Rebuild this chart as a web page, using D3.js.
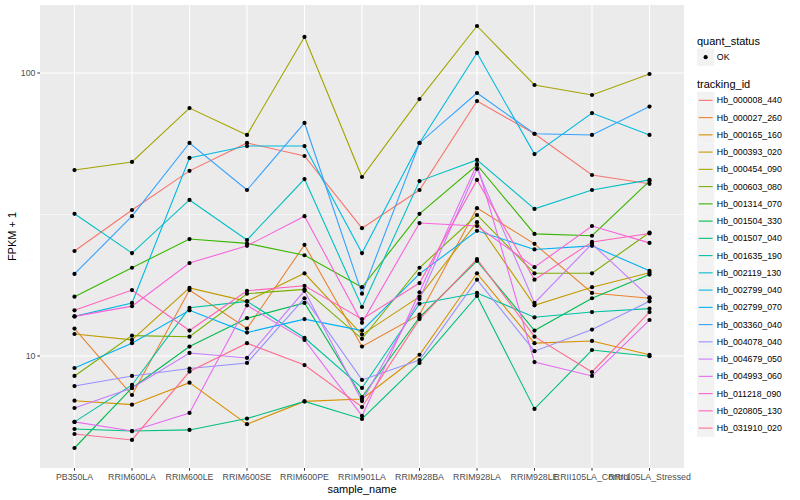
<!DOCTYPE html>
<html><head><meta charset="utf-8">
<script src="https://cdn.jsdelivr.net/npm/d3@7"></script>
<style>body{margin:0;background:#fff}svg text{font-family:"Liberation Sans",Arial,Helvetica,sans-serif}</style>
</head><body><svg id="c" width="800" height="500"></svg>
<script>
const samples = ["PB350LA","RRIM600LA","RRIM600LE","RRIM600SE","RRIM600PE","RRIM901LA","RRIM928BA","RRIM928LA","RRIM928LE","RRII105LA_Control","RRII105LA_Stressed"];
const trackingIds = ["Hb_000008_440","Hb_000027_260","Hb_000165_160","Hb_000393_020","Hb_000454_090","Hb_000603_080","Hb_001314_070","Hb_001504_330","Hb_001507_040","Hb_001635_190","Hb_002119_130","Hb_002799_040","Hb_002799_070","Hb_003360_040","Hb_004078_040","Hb_004679_050","Hb_004993_060","Hb_011218_090","Hb_020805_130","Hb_031910_020"];
const hb_000008_440 = [23.5, 32.8, 45.1, 56.6, 50.9, 28.3, 38.6, 79.6, 61.0, 43.6, 40.6];
const hb_000027_260 = [12.5, 7.28, 17.1, 12.5, 24.7, 10.8, 14.0, 33.3, 24.9, 16.7, 16.0];
const hb_000165_160 = [6.95, 6.73, 8.05, 5.74, 6.91, 7.05, 10.1, 19.6, 11.1, 11.3, 10.1];
const hb_000393_020 = [11.96, 11.4, 17.4, 15.6, 19.6, 11.9, 16.2, 29.7, 15.1, 17.5, 19.7];
const hb_000454_090 = [45.4, 48.5, 75.2, 60.4, 134.1, 42.9, 80.9, 146.6, 90.7, 83.6, 99.2];
const hb_000603_080 = [8.50, 11.8, 11.7, 16.6, 17.2, 11.5, 20.5, 31.5, 19.6, 19.6, 27.3];
const hb_001314_070 = [16.2, 20.5, 25.9, 25.0, 22.7, 17.5, 31.8, 47.3, 27.0, 26.6, 41.5];
const hb_001504_330 = [4.73, 7.71, 10.8, 13.6, 15.4, 7.16, 13.7, 21.7, 12.3, 16.0, 19.4];
const hb_001507_040 = [5.52, 5.43, 5.48, 6.01, 6.91, 5.99, 9.45, 16.3, 6.50, 10.5, 9.98];
const hb_001635_190 = [5.85, 7.90, 14.8, 15.6, 11.6, 7.71, 15.3, 16.7, 13.7, 14.3, 14.7];
const hb_002119_130 = [31.8, 23.1, 35.6, 25.7, 42.2, 14.9, 41.5, 49.3, 33.1, 38.6, 41.9];
const hb_002799_040 = [13.8, 15.4, 50.1, 55.2, 55.2, 23.1, 56.6, 117.7, 51.7, 72.2, 60.4];
const hb_002799_070 = [9.07, 11.1, 14.5, 12.1, 13.5, 12.3, 19.5, 27.7, 23.8, 24.5, 20.0];
const hb_003360_040 = [19.5, 31.2, 56.6, 38.6, 66.6, 16.6, 56.6, 85.0, 61.0, 60.4, 76.1];
const hb_004078_040 = [7.83, 8.50, 9.03, 9.45, 16.0, 8.23, 9.68, 18.6, 10.4, 12.4, 15.6];
const hb_004679_050 = [6.55, 7.71, 10.25, 9.84, 17.0, 6.93, 15.9, 45.8, 15.4, 24.9, 16.1];
const hb_004993_060 = [5.85, 5.43, 6.29, 15.1, 11.4, 6.14, 16.8, 47.7, 9.52, 8.50, 13.4];
const hb_011218_090 = [13.8, 15.0, 21.3, 24.5, 31.2, 13.1, 29.5, 28.8, 20.6, 28.8, 25.1];
const hb_020805_130 = [14.5, 17.1, 12.3, 17.0, 17.7, 13.5, 18.1, 41.9, 18.6, 25.3, 27.1];
const hb_031910_020 = [5.30, 5.05, 8.81, 11.1, 9.29, 6.60, 13.5, 22.0, 11.7, 8.78, 14.3];
const yTicks = [10, 100];
const yTickLabels = ["10", "100"];
const quantStatus = ["OK"];

const seriesValues = [hb_000008_440,hb_000027_260,hb_000165_160,hb_000393_020,hb_000454_090,hb_000603_080,hb_001314_070,hb_001504_330,hb_001507_040,hb_001635_190,hb_002119_130,hb_002799_040,hb_002799_070,hb_003360_040,hb_004078_040,hb_004679_050,hb_004993_060,hb_011218_090,hb_020805_130,hb_031910_020];
const palette = ["#F8766D","#EA8331","#D89000","#C09B00","#A3A500","#7CAE00","#39B600","#00BB4E","#00BF7D","#00C1A3","#00BFC4","#00BAE0","#00B0F6","#35A2FF","#9590FF","#C77CFF","#E76BF3","#FA62DB","#FF62BC","#FF6C91"];

const series = trackingIds.map((id, i) => ({id, color: palette[i], values: seriesValues[i].map((v, j) => ({s: samples[j], v}))}));

const svg = d3.select("#c");
const L = 40, R = 684, T = 5, B = 468;
const x = d3.scalePoint().domain(samples).range([L, R]).padding(0.6);
const y = d3.scaleLog().domain([Math.pow(10, 0.6042), Math.pow(10, 2.2403)]).range([B, T]);

svg.append("rect").attr("x", L).attr("y", T).attr("width", R - L).attr("height", B - T).attr("fill", "#EBEBEB");
// minor grid
svg.append("line").attr("x1", L).attr("x2", R).attr("y1", y(Math.pow(10, 1.5))).attr("y2", y(Math.pow(10, 1.5))).attr("stroke", "#fff").attr("stroke-width", 0.55);
// major grid
yTicks.forEach(t => svg.append("line").attr("x1", L).attr("x2", R).attr("y1", y(t)).attr("y2", y(t)).attr("stroke", "#fff").attr("stroke-width", 1.1));
samples.forEach(s => svg.append("line").attr("x1", x(s)).attr("x2", x(s)).attr("y1", T).attr("y2", B).attr("stroke", "#fff").attr("stroke-width", 1.1));

const line = d3.line().x(d => x(d.s)).y(d => y(d.v));
svg.append("g").selectAll("path").data(series).join("path")
  .attr("d", d => line(d.values)).attr("fill", "none").attr("stroke", d => d.color).attr("stroke-width", 1.1);
svg.append("g").selectAll("circle").data(series.flatMap(d => d.values)).join("circle")
  .attr("cx", d => x(d.s)).attr("cy", d => y(d.v)).attr("r", 2.1).attr("fill", "#000");

// axes
yTicks.forEach((t, i) => {
  svg.append("line").attr("x1", L - 2.7).attr("x2", L).attr("y1", y(t)).attr("y2", y(t)).attr("stroke", "#333").attr("stroke-width", 1);
  svg.append("text").attr("x", L - 4.5).attr("y", y(t)).attr("dy", "0.35em").attr("text-anchor", "end").attr("font-size", 8.8).attr("fill", "#4D4D4D").text(yTickLabels[i]);
});
samples.forEach(s => {
  svg.append("line").attr("x1", x(s)).attr("x2", x(s)).attr("y1", B).attr("y2", B + 2.7).attr("stroke", "#333").attr("stroke-width", 1);
  svg.append("text").attr("x", x(s)).attr("y", B + 12).attr("text-anchor", "middle").attr("font-size", 8.8).attr("fill", "#4D4D4D").text(s);
});
svg.append("text").attr("x", (L + R) / 2).attr("y", 493).attr("text-anchor", "middle").attr("font-size", 11).attr("fill", "#000").text("sample_name");
svg.append("text").attr("transform", `translate(16,${(T + B) / 2}) rotate(-90)`).attr("text-anchor", "middle").attr("font-size", 11).attr("fill", "#000").text("FPKM + 1");

// legend
const lx = 697, kw = 17.3;
svg.append("text").attr("x", lx).attr("y", 44.5).attr("font-size", 11).attr("fill", "#000").text("quant_status");
quantStatus.forEach((q, i) => {
  const ky = 48.5 + i * kw;
  svg.append("rect").attr("x", lx).attr("y", ky).attr("width", kw).attr("height", kw).attr("fill", "#F2F2F2");
  svg.append("circle").attr("cx", lx + kw / 2).attr("cy", ky + kw / 2).attr("r", 2.1).attr("fill", "#000");
  svg.append("text").attr("x", lx + kw + 2.5).attr("y", ky + kw / 2).attr("dy", "0.35em").attr("font-size", 8.8).attr("fill", "#000").text(q);
});
svg.append("text").attr("x", lx).attr("y", 88).attr("font-size", 11).attr("fill", "#000").text("tracking_id");
series.forEach((s, i) => {
  const ky = 91.7 + i * 17.25;
  svg.append("rect").attr("x", lx).attr("y", ky).attr("width", kw).attr("height", kw).attr("fill", "#F2F2F2");
  svg.append("line").attr("x1", lx + 1.7).attr("x2", lx + kw - 1.7).attr("y1", ky + kw / 2).attr("y2", ky + kw / 2).attr("stroke", s.color).attr("stroke-width", 1.1);
  svg.append("text").attr("x", lx + kw + 2.5).attr("y", ky + kw / 2).attr("dy", "0.35em").attr("font-size", 8.8).attr("fill", "#000").text(s.id);
});
</script></body></html>
